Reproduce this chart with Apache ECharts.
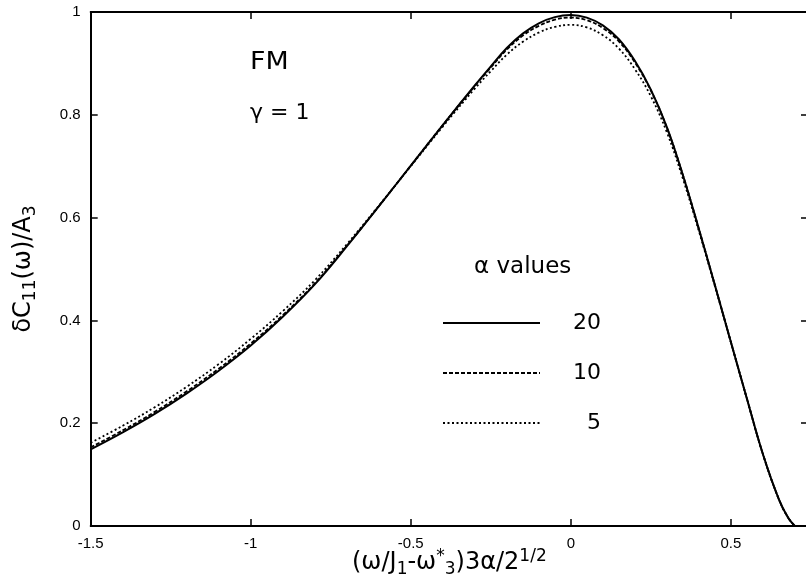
<!DOCTYPE html>
<html>
<head>
<meta charset="utf-8">
<script src="https://cdn.jsdelivr.net/npm/echarts@6/dist/echarts.min.js"></script>
<style>html,body{margin:0;padding:0;background:#fff}#c{width:806px;height:584px}</style>
</head>
<body>
<div id="c"></div>
<script>
const xs = [-1.5,-1.4,-1.3,-1.2,-1.1,-1.0,-0.9,-0.8,-0.7,-0.6,-0.5,-0.4,-0.3,-0.25,-0.2,-0.15,-0.1,-0.05,0,0.05,0.1,0.15,0.2,0.25,0.3,0.35,0.4,0.45,0.5,0.55,0.6,0.65,0.68,0.7];
const alpha20 = [0.149,0.182,0.218,0.258,0.302,0.351,0.407,0.470,0.544,0.622,0.701,0.780,0.857,0.894,0.930,0.958,0.978,0.990,0.994,0.989,0.974,0.947,0.905,0.849,0.776,0.683,0.578,0.469,0.358,0.248,0.140,0.052,0.015,0.0];
const alpha10 = [0.153,0.186,0.222,0.262,0.306,0.355,0.410,0.472,0.545,0.622,0.701,0.780,0.856,0.892,0.927,0.954,0.973,0.985,0.989,0.984,0.969,0.943,0.902,0.847,0.775,0.683,0.578,0.469,0.358,0.248,0.140,0.052,0.015,0.0];
const alpha5 = [0.162,0.195,0.231,0.271,0.315,0.364,0.418,0.478,0.548,0.623,0.700,0.777,0.851,0.885,0.917,0.942,0.960,0.971,0.975,0.970,0.955,0.929,0.889,0.836,0.766,0.676,0.574,0.467,0.358,0.248,0.140,0.052,0.015,0.0];
const seriesNames = ['20','10','5'];
const xTickLabels = {'-1.5':'-1.5','-1':'-1','-0.5':'-0.5','0':'0','0.5':'0.5'};

const FONT = 'Liberation Sans, Arial, Helvetica, sans-serif';
const WIDE = 'DejaVu Sans, Liberation Sans, sans-serif';
function pairs(ys){ return xs.map((x,i)=>[x,ys[i]]); }

const chart = echarts.init(document.getElementById('c'), null, {renderer:'canvas'});
const axisLine = {show:true, onZero:false, lineStyle:{color:'#000', width:2}};
const tick = {show:true, inside:true, length:7, lineStyle:{color:'#000', width:1.5}};
const subRich = {
  b:{fontSize:24, fontFamily:WIDE, color:'#000', lineHeight:30},
  sub:{fontSize:17, fontFamily:WIDE, color:'#000', verticalAlign:'bottom', lineHeight:16},
  sup:{fontSize:17, fontFamily:WIDE, color:'#000', verticalAlign:'top', lineHeight:16}
};
chart.setOption({
  animation:false,
  backgroundColor:'#fff',
  grid:{left:90.7, right:-2, top:12, bottom:58, containLabel:false, outerBoundsMode:'none'},
  xAxis:[{
    type:'value', min:-1.5, max:0.741, interval:0.5, position:'bottom',
    axisLine:axisLine, splitLine:{show:false}, axisTick:tick,
    axisLabel:{color:'#000', fontSize:15, fontFamily:FONT, margin:10, showMaxLabel:false,
      formatter:v=>{const k=String(Math.round(v*10)/10); return xTickLabels[k]!==undefined?xTickLabels[k]:'';}},
    name:'{b|(ω/J}{sub|1}{b|-ω}{sup|*}{sub|3}{b|)3α/2}{sup|1/2}',
    nameLocation:'middle', nameGap:22, nameMoveOverlap:false,
    nameTextStyle:{rich:subRich}
  },{
    type:'value', min:-1.5, max:0.741, interval:0.5, position:'top',
    axisLine:axisLine, splitLine:{show:false}, axisTick:tick,
    axisLabel:{show:false}
  }],
  yAxis:[{
    type:'value', min:0, max:1, interval:0.2, position:'left',
    axisLine:axisLine, splitLine:{show:false}, axisTick:tick,
    axisLabel:{color:'#000', fontSize:15, fontFamily:FONT, margin:10},
    name:'{b|δC}{sub|11}{b|(ω)/A}{sub|3}',
    nameLocation:'middle', nameGap:52, nameRotate:90,
    nameTextStyle:{rich:subRich}
  },{
    type:'value', min:0, max:1, interval:0.2, position:'right',
    axisLine:axisLine, splitLine:{show:false}, axisTick:tick,
    axisLabel:{show:false}
  }],
  legend:{
    orient:'vertical', left:442, top:312, padding:0, itemWidth:97, itemHeight:16, itemGap:28,
    data:seriesNames,
    itemStyle:{opacity:0},
    formatter:n=>'{a|'+n+'}',
    textStyle:{color:'#000', fontSize:22, fontFamily:WIDE,
      rich:{a:{fontSize:22, fontFamily:WIDE, color:'#000', width:56, align:'right'}}},
    selectedMode:false
  },
  series:[
    {name:seriesNames[0], type:'line', data:pairs(alpha20), symbol:'none', smooth:0.4, color:'#000',
      lineStyle:{color:'#000', width:2, type:'solid'}},
    {name:seriesNames[1], type:'line', data:pairs(alpha10), symbol:'none', smooth:0.4, color:'#000',
      lineStyle:{color:'#000', width:1.8, type:[4,2]}},
    {name:seriesNames[2], type:'line', data:pairs(alpha5), symbol:'none', smooth:0.4, color:'#000',
      lineStyle:{color:'#000', width:1.8, type:[2,2.5]}}
  ],
  graphic:[
    {type:'text', left:250, top:51, scaleX:1.12, style:{text:'FM', fontSize:24, fontFamily:WIDE, fill:'#000'}},
    {type:'text', left:250, top:102, style:{text:'γ = 1', fontSize:22, fontFamily:WIDE, fill:'#000'}},
    {type:'text', left:474, top:256, style:{text:'α values', fontSize:23, fontFamily:WIDE, fill:'#000'}}
  ]
});
</script>
</body>
</html>
